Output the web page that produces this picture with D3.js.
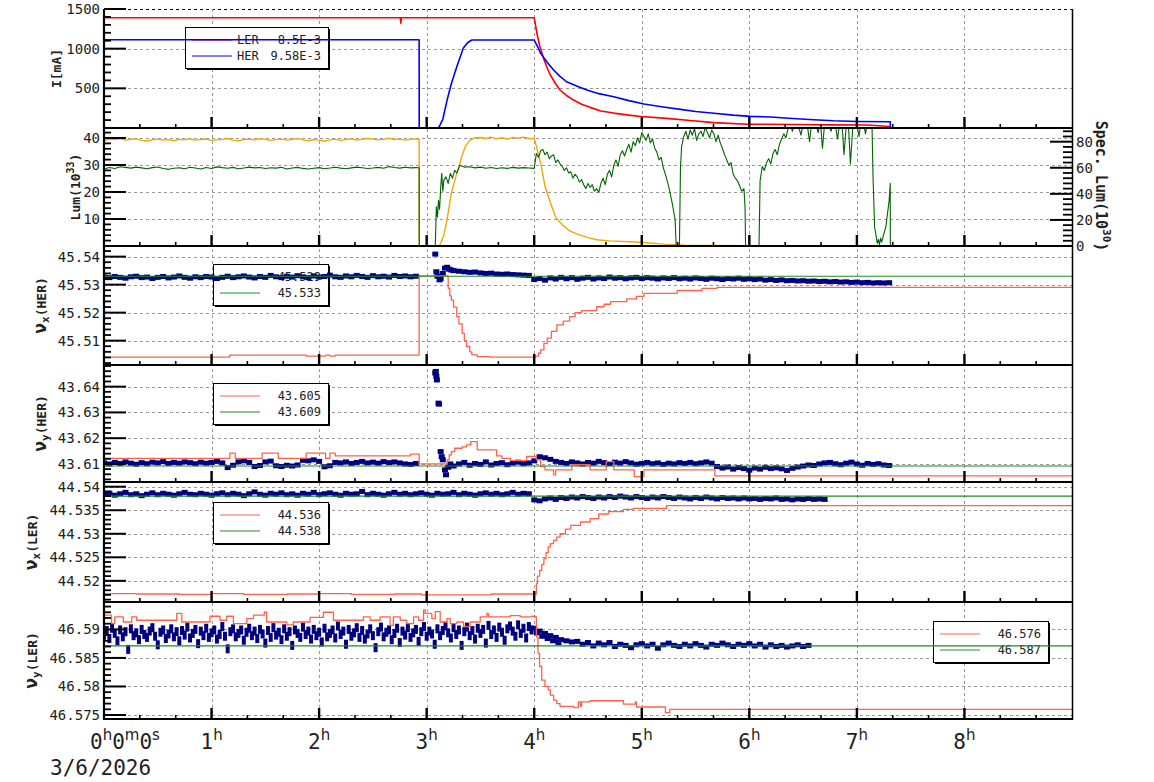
<!DOCTYPE html>
<html><head><meta charset="utf-8">
<script src="https://cdn.jsdelivr.net/npm/d3@7"></script>
<style>
body{margin:0;background:#fff}
svg{display:block}
text{font-family:"DejaVu Sans Mono",monospace;fill:#222}
</style>
</head><body>
<svg id="c" width="1154" height="782"></svg>
<script>
// ---------------- DATA ----------------
const seq = (t0, dt, vals) => vals.map((v, i) => [+(t0 + i * dt).toFixed(4), v]);

const hours = [1, 2, 3, 4, 5, 6, 7, 8];
const dateLabel = "3/6/2026";
const ticksI = [500, 1000, 1500];
const ticksLum = [10, 20, 30, 40];
const ticksSpec = [0, 20, 40, 60, 80];
const ticksHx = [45.51, 45.52, 45.53, 45.54];
const ticksHy = [43.61, 43.62, 43.63, 43.64];
const ticksLx = [44.52, 44.525, 44.53, 44.535, 44.54];
const ticksLy = [46.575, 46.58, 46.585, 46.59];

const legendINames = ["LER", "HER"];
const legendIVals = ["8.5E-3", "9.58E-3"];
const legendHx = ["45.529", "45.533"];
const legendHy = ["43.605", "43.609"];
const legendLx = ["44.536", "44.538"];
const legendLy = ["46.576", "46.587"];

// beam currents [h, mA]
const curLER = [[0,1390],[2.755,1390],[2.76,1320],[2.765,1390],[4.0,1390],[4.025,1194],[4.05,1040],[4.087,878],[4.12,760],[4.15,668],[4.2,555],[4.24,479],[4.3,410],[4.366,352],[4.44,300],[4.52,260],[4.62,215],[4.74,188],[4.86,165],[4.99,145],[5.23,121],[5.45,95],[5.67,68],[5.98,48],[6.41,44],[6.75,40],[7.1,37],[7.3,18],[7.31,0],[9,0]];
const curHER = [[0,1112],[2.93,1112],[2.931,0],[3.11,0],[3.15,110],[3.19,352],[3.23,560],[3.28,772],[3.34,1004],[3.38,1075],[3.42,1109],[4.0,1109],[4.03,1030],[4.06,941],[4.12,830],[4.18,731],[4.24,650],[4.30,583],[4.4,525],[4.49,479],[4.6,433],[4.74,394],[4.88,345],[5.02,302],[5.2,265],[5.36,235],[5.5,208],[5.67,185],[5.85,162],[6.01,147],[6.2,138],[6.4,120],[6.6,104],[6.78,91],[7.0,82],[7.31,78],[7.311,0],[9,0]];

// luminosity (left axis, 1e33)
const lumOrange = [
  ...seq(0, 0.05, [39.0,39.6,39.4,39.8,39.2,39.5,39.7,39.1,38.9,39.3,39.6,39.2,39.4,39.0,39.5,39.3,39.7,39.2,39.4,39.6,39.1,39.3,39.5,39.8,39.2,39.0,39.4,39.6,39.3,39.7,39.5,39.1,39.4,39.6,39.2,39.5,39.8,39.3,39.0,39.4,39.2,38.9,39.3,39.6,39.1,39.4,39.7,39.2,39.5,39.8,39.6,39.3,39.5,39.9,39.4,39.6,39.2,39.5,39.7]),
  [2.93,39.4],[2.931,0],[3.12,0],[3.16,4],[3.19,9.9],[3.23,19.7],[3.27,25.5],[3.30,29.5],[3.33,33.5],[3.36,36.9],[3.40,39.0],[3.44,40.0],
  ...seq(3.5, 0.05, [40.2,39.8,40.3,39.7,40.1,39.6,40.2,39.9,40.3,39.8]),
  [4.0,39.8],[4.02,36.9],[4.06,30.7],[4.10,22.2],[4.15,16.1],[4.20,10.6],[4.27,7.5],[4.33,5.6],[4.40,4.4],[4.5,3.1],[4.58,2.3],[4.7,1.9],[4.89,1.6],[5.05,1.2],[5.2,0.7],[5.4,0.3],[5.6,0.2],[6.0,0.1],[7.14,0.1]
];
// specific luminosity (right axis, 1e30)
const specLum = [
  ...seq(0, 0.05, [59.0,60.2,59.5,60.8,60.3,59.7,60.5,59.9,59.2,60.1,60.6,59.4,58.8,59.6,60.0,59.3,60.4,59.8,59.1,60.2,59.5,60.7,60.1,59.6,60.3,59.2,59.8,60.5,59.9,60.2,59.4,60.0,59.7,60.4,59.1,59.8,60.3,59.5,59.0,59.6,60.1,59.3,59.8,60.4,59.7,59.2,59.9,60.5,60.0,59.4,59.8,60.3,59.6,60.9,60.2,59.7,60.4,59.9,60.1]),
  [2.93,60],[2.931,0],[3.08,0],[3.09,30],[3.1,22],[3.11,35],[3.12,28],[3.13,44],[3.14,55.7],[3.15,42],[3.16,50.5],[3.18,53],[3.20,48],[3.22,55.7],[3.24,52],[3.26,58],[3.28,56],[3.31,62],[3.35,60.5],
  ...seq(3.4, 0.05, [60.8,59.9,60.5,59.6,60.2,59.4,60.0,59.5,60.3,59.7,60.1,59.8]),
  [4.0,59.5],
  ...seq(4.02, 0.02, [71,68,73,74,70,72,67,69,70,64, 66,63,61,58,60,56,57,52,55,53, 49,51,47,44,48,45,47,42,44,41, 48,52,47,55,58,53,62,66,61,70, 73,69,74,78,72,80,77,83,79,87, 84,81,86,79,82,75,72,66,68,60, 55,49,42,34,25]),
  [5.31,19.8],[5.32,0],[5.35,0],[5.36,60.8],
  ...seq(5.37, 0.02, [76,84,88,82,89,85,90,81,86,88, 84,91,87,83,89,86,80,85,79,75, 70,66,62,64,55,52,50,46,42,44]),
  [5.96,30],[5.965,0],[6.09,0],[6.10,50],
  ...seq(6.12, 0.02, [61,58,64,67,63,71,74,70,78,82, 86,83,90,95,88,93,97,91,85,94, 96,92,80,95,98,93,87,96,75,94, 97,92,88,96,93,82,95,97,70,91, 95,63,89,96,93,84,97,95,86,96, 92,95]),
  [7.15,53],[7.165,14.6],[7.18,7],[7.19,2],[7.20,5],[7.21,1],[7.22,6],[7.23,3],[7.25,9],[7.27,15],[7.28,22],[7.30,35],[7.31,48],[7.311,0]
];

// HER horizontal tune
const setHx = [[0,45.5041],[1.17,45.5048],[1.88,45.5045],[2.06,45.5048],[2.10,45.5045],[2.15,45.5048],[2.93,45.5331],[3.20,45.5287],[3.215,45.526],[3.23,45.5245],[3.25,45.522],[3.28,45.5186],[3.30,45.516],[3.33,45.5126],[3.35,45.510],[3.37,45.5079],[3.40,45.506],[3.42,45.5049],[3.47,45.5043],[3.59,45.5041],[4.01,45.5045],[4.04,45.5055],[4.06,45.5067],[4.09,45.509],[4.12,45.5109],[4.16,45.5133],[4.21,45.5156],[4.27,45.517],[4.33,45.5186],[4.38,45.520],[4.44,45.5207],[4.58,45.5221],[4.65,45.523],[4.71,45.5239],[4.86,45.5249],[4.95,45.5258],[5.02,45.5269],[5.33,45.5279],[5.56,45.5287],[5.70,45.529],[9,45.529]];
const refHx = [[0,45.533],[9,45.533]];
const measHx = [
  ...seq(0, 0.05, [45.5327,45.5325,45.5329,45.5326,45.5323,45.5328,45.5330,45.5325,45.5327,45.5322,45.5326,45.5329,45.5324,45.5327,45.5331,45.5326,45.5323,45.5328,45.5325,45.5329,45.5327,45.5322,45.5326,45.5330,45.5325,45.5328,45.5331,45.5327,45.5324,45.5329,45.5326,45.5333,45.5328,45.5325,45.5330,45.5327,45.5332,45.5328,45.5325,45.5331,45.5327,45.5329,45.5334,45.5328,45.5326,45.5331,45.5328,45.5333,45.5329,45.5326,45.5332,45.5328,45.5330,45.5327,45.5333,45.5329,45.5331,45.5328,45.5330]),
  [3.08,45.5409],[3.09,45.5346],[3.10,45.5330],[3.12,45.5317],[3.13,45.5322],[3.15,45.5340],[3.17,45.5359],[3.19,45.5362],[3.21,45.5355],[3.23,45.5352],[3.25,45.5350],
  ...seq(3.3, 0.05, [45.5348,45.5346,45.5344,45.5345,45.5342,45.5340,45.5341,45.5338,45.5337,45.5338,45.5336,45.5335,45.5334,45.5333]),
  ...seq(4.0, 0.05, [45.5318,45.5322,45.5316,45.5324,45.5320,45.5326,45.5321,45.5325,45.5319,45.5323,45.5326,45.5320,45.5324,45.5322,45.5327,45.5323,45.5325,45.5321,45.5324,45.5326,45.5322,45.5325,45.5323,45.5320,45.5324,45.5322,45.5325,45.5321,45.5323,45.5320,45.5324,45.5322,45.5319,45.5323,45.5321,45.5318,45.5322,45.5320,45.5323,45.5319,45.5321,45.5318,45.5320,45.5316,45.5318,45.5315,45.5317,45.5314,45.5315,45.5313,45.5314,45.5312,45.5313,45.5311,45.5312,45.5310,45.5311,45.5309,45.5310,45.5308,45.5309,45.5307,45.5308,45.5306,45.5307,45.5306,45.5307])
];

// HER vertical tune
const setHy = [[0,43.6122],[1.17,43.6142],[1.22,43.6122],[1.47,43.6142],[1.62,43.6122],[1.88,43.6142],[2.06,43.6122],[2.10,43.6142],[2.15,43.6131],[2.85,43.6138],[2.93,43.6100],[3.19,43.6116],[3.21,43.6135],[3.23,43.6148],[3.26,43.6161],[3.33,43.6166],[3.37,43.6174],[3.41,43.6187],[3.47,43.6155],[3.65,43.6131],[3.70,43.6122],[3.78,43.6113],[3.93,43.6129],[4.02,43.6116],[4.06,43.6090],[4.10,43.6077],[4.18,43.6058],[4.20,43.6077],[4.35,43.6097],[4.52,43.6077],[4.67,43.6109],[4.74,43.6077],[4.93,43.6051],[5.02,43.6077],[5.68,43.6054],[9,43.6054]];
const refHy = [[0,43.6092],[9,43.6092]];
const measHy = [
  ...seq(0, 0.05, [43.6104,43.6100,43.6106,43.6102,43.6108,43.6103,43.6099,43.6105,43.6101,43.6107,43.6104,43.6109,43.6102,43.6106,43.6103,43.6108,43.6105,43.6101,43.6107,43.6103,43.6106,43.6110,43.6104,43.6086,43.6095,43.6108,43.6112,43.6106,43.6090,43.6094,43.6108,43.6111,43.6093,43.6090,43.6095,43.6092,43.6096,43.6114,43.6112,43.6116,43.6110,43.6089,43.6093,43.6106,43.6104,43.6108,43.6102,43.6106,43.6110,43.6104,43.6107,43.6103,43.6109,43.6105,43.6108,43.6104,43.6100,43.6098,43.6102]),
  [3.08,43.6453],[3.085,43.6459],[3.09,43.6440],[3.095,43.6426],[3.11,43.6336],[3.115,43.6332],[3.13,43.6148],[3.14,43.6128],[3.15,43.6116],[3.17,43.6077],[3.18,43.6058],[3.20,43.6087],[3.22,43.6100],
  ...seq(3.25, 0.05, [43.6092,43.6100,43.6106,43.6095,43.6102,43.6098,43.6108,43.6096,43.6102,43.6105,43.6097,43.6103,43.6107,43.6101,43.6104]),
  ...seq(4.0, 0.05, [43.6112,43.6128,43.6124,43.6118,43.6110,43.6106,43.6102,43.6108,43.6104,43.6100,43.6106,43.6103,43.6110,43.6105,43.6101,43.6107,43.6103,43.6109,43.6104,43.6099,43.6102,43.6106,43.6101,43.6104,43.6098,43.6103,43.6100,43.6105,43.6102,43.6106,43.6101,43.6104,43.6108,43.6103,43.6090,43.6084,43.6088,43.6080,43.6086,43.6082,43.6076,43.6084,43.6080,43.6087,43.6082,43.6085,43.6081,43.6075,43.6083,43.6088,43.6092,43.6096,43.6094,43.6100,43.6104,43.6106,43.6101,43.6097,43.6103,43.6107,43.6100,43.6095,43.6102,43.6098,43.6101,43.6096,43.6094])
];

// LER horizontal tune
const setLx = [[0,44.5173],[0.3,44.5172],[0.7,44.5171],[1.0,44.5173],[1.3,44.5171],[1.7,44.5172],[2.0,44.5173],[2.3,44.5171],[2.7,44.5172],[2.95,44.5170],[3.6,44.5172],[4.0,44.5172],[4.02,44.5194],[4.03,44.5210],[4.05,44.5222],[4.07,44.5235],[4.09,44.5247],[4.11,44.5260],[4.13,44.5272],[4.15,44.5279],[4.18,44.5286],[4.21,44.5293],[4.24,44.5300],[4.29,44.5310],[4.34,44.5318],[4.43,44.5325],[4.52,44.5332],[4.60,44.5342],[4.69,44.5347],[4.83,44.5352],[4.92,44.5354],[5.23,44.5360],[9,44.5360]];
const refLx = [[0,44.538],[9,44.538]];
const measLx = [
  ...seq(0, 0.05, [44.5384,44.5386,44.5382,44.5385,44.5388,44.5383,44.5385,44.5381,44.5384,44.5387,44.5383,44.5386,44.5384,44.5382,44.5385,44.5388,44.5384,44.5383,44.5386,44.5384,44.5382,44.5385,44.5387,44.5383,44.5386,44.5384,44.5381,44.5385,44.5389,44.5384,44.5382,44.5386,44.5384,44.5387,44.5383,44.5385,44.5382,44.5386,44.5384,44.5388,44.5383,44.5385,44.5387,44.5384,44.5382,44.5386,44.5384,44.5385,44.5390,44.5383,44.5386,44.5384,44.5382,44.5385,44.5388,44.5384,44.5386,44.5383,44.5385,44.5387,44.5384,44.5382,44.5386,44.5384,44.5385,44.5388,44.5383,44.5386,44.5384,44.5382,44.5385,44.5387,44.5384,44.5386,44.5383,44.5385,44.5388,44.5384,44.5386,44.5385]),
  ...seq(4.0, 0.05, [44.5372,44.5370,44.5374,44.5376,44.5373,44.5377,44.5375,44.5378,44.5376,44.5379,44.5377,44.5375,44.5378,44.5376,44.5379,44.5377,44.5380,44.5378,44.5376,44.5379,44.5377,44.5375,44.5378,44.5376,44.5379,44.5377,44.5375,44.5378,44.5376,44.5374,44.5377,44.5375,44.5378,44.5376,44.5374,44.5377,44.5375,44.5376,44.5374,44.5376,44.5374,44.5375,44.5373,44.5375,44.5374,44.5376,44.5373,44.5374,44.5372,44.5374,44.5373,44.5375,44.5373,44.5374,44.5373])
];

// LER vertical tune
const setLy = [[0,46.5925],[0.07,46.5910],[0.10,46.5922],[0.18,46.5913],[0.258,46.5922],[0.304,46.5916],[0.676,46.5928],[0.723,46.5913],[0.986,46.5923],[1.079,46.5916],[1.141,46.5923],[1.203,46.5910],[1.327,46.5919],[1.39,46.5925],[1.49,46.5930],[1.513,46.5913],[1.70,46.5908],[1.76,46.5913],[1.916,46.5921],[2.04,46.5930],[2.133,46.5916],[2.412,46.5922],[2.474,46.5916],[2.567,46.5922],[2.66,46.5907],[2.69,46.5922],[2.754,46.5916],[2.815,46.5910],[2.878,46.5922],[2.925,46.5916],[2.971,46.5934],[2.986,46.5928],[3.048,46.5919],[3.08,46.5931],[3.126,46.5913],[3.188,46.5919],[3.219,46.5910],[3.281,46.5913],[3.343,46.5905],[3.405,46.5913],[3.498,46.5922],[3.56,46.5928],[3.575,46.5922],[3.777,46.5924],[3.87,46.5922],[3.978,46.5923],[4.009,46.5922],[4.02,46.5887],[4.035,46.5858],[4.05,46.5835],[4.07,46.5811],[4.10,46.5800],[4.13,46.5794],[4.15,46.5785],[4.18,46.5776],[4.21,46.5770],[4.24,46.5765],[4.37,46.5763],[4.41,46.5773],[4.43,46.5765],[4.44,46.5773],[4.52,46.5775],[4.83,46.5769],[4.94,46.5773],[4.95,46.5764],[5.22,46.5754],[5.26,46.5760],[9,46.5760]];
const refLy = [[0,46.5871],[9,46.5871]];
const measLyA = seq(0, 0.025, [
    46.5890,46.5898,46.5884,46.5902,46.5893,46.5880,46.5899,46.5887,
    46.5896,46.5865,46.5901,46.5889,46.5894,46.5882,46.5900,46.5891,
    46.5886,46.5897,46.5903,46.5888,46.5873,46.5895,46.5899,46.5884,
    46.5892,46.5901,46.5887,46.5896,46.5880,46.5898,46.5890,46.5904,
    46.5885,46.5893,46.5900,46.5875,46.5897,46.5889,46.5902,46.5886,
    46.5894,46.5899,46.5883,46.5891,46.5905,46.5888,46.5866,46.5896,
    46.5901,46.5887,46.5893,46.5899,46.5881,46.5895,46.5902,46.5889,
    46.5897,46.5884,46.5900,46.5892,46.5876,46.5898,46.5886,46.5903,
    46.5890,46.5895,46.5882,46.5901,46.5888,46.5896,46.5872,46.5899,
    46.5893,46.5886,46.5904,46.5891,46.5897,46.5883,46.5900,46.5889,
    46.5895,46.5878,46.5902,46.5887,46.5893,46.5899,46.5885,46.5906,
    46.5891,46.5897,46.5874,46.5900,46.5888,46.5894,46.5903,46.5886,
    46.5898,46.5883,46.5892,46.5901,46.5889,46.5868,46.5896,46.5904,
    46.5887,46.5895,46.5899,46.5882,46.5893,46.5902,46.5877,46.5897,
    46.5890,46.5903,46.5886,46.5894,46.5900,46.5879,46.5896,46.5905,
    46.5888,46.5897,46.5892,46.5874,46.5901,46.5889,46.5898,46.5906,
    46.5894,46.5885,46.5903,46.5891,46.5899,46.5872,46.5896,46.5904,
    46.5889,46.5898,46.5883,46.5902,46.5893,46.5900,46.5876,46.5907,
    46.5891,46.5899,46.5886,46.5904,46.5895,46.5881,46.5901,46.5906,
    46.5897,46.5888,46.5908,46.5893,46.5902,46.5885,46.5905,46.5899]);
const measLyB = [
  [4.025,46.5894],[4.075,46.5888],[4.125,46.5884],[4.175,46.5880],[4.225,46.5877],
  ...seq(4.0, 0.05, [46.5902,46.5897,46.5893,46.5889,46.5886,46.5882,46.5880,46.5878,46.5879,46.5874,46.5877,46.5871,46.5876,46.5873,46.5877,46.5870,46.5874,46.5872,46.5868,46.5873,46.5875,46.5871,46.5874,46.5867,46.5873,46.5876,46.5872,46.5870,46.5874,46.5871,46.5875,46.5872,46.5869,46.5874,46.5872,46.5876,46.5873,46.5870,46.5874,46.5872,46.5875,46.5871,46.5874,46.5869,46.5873,46.5870,46.5872,46.5869,46.5871,46.5873,46.5870,46.5872])
];

// ---------------- DRAW ----------------
const C = {red:"#ff0000", blue:"#0000ff", orange:"#f0a800", dkgreen:"#006400", coral:"#ff6347", green:"#228b22", navy:"#000080", grid:"#999"};
const svg = d3.select("#c");
const X0 = 104, X1 = 1072, TOP = 9, BOT = 719;
const x = d3.scaleLinear().domain([0, 9]).range([X0, X1]);

const panels = [
  {top:9,   bot:128, dom:[0,1500],          ticks:ticksI,   minor:100},
  {top:128, bot:246, dom:[0,43.7],          ticks:ticksLum, minor:2, right:{dom:[0,90.5], ticks:ticksSpec, minor:4}},
  {top:246, bot:365, dom:[45.5013,45.5438], ticks:ticksHx,  minor:0.002},
  {top:365, bot:482, dom:[43.603,43.6484],  ticks:ticksHy,  minor:0.002},
  {top:482, bot:602, dom:[44.5155,44.541],  ticks:ticksLx,  minor:0.001},
  {top:602, bot:719, dom:[46.5743,46.5948], ticks:ticksLy,  minor:0.001}
];
panels.forEach(p => {
  p.y = d3.scaleLinear().domain(p.dom).range([p.bot, p.top]);
  if (p.right) p.right.y = d3.scaleLinear().domain(p.right.dom).range([p.bot, p.top]);
});
const minors = (dom, step, majors) => {
  const a = Math.ceil(dom[0] / step - 1e-6), b = Math.floor(dom[1] / step + 1e-6);
  return d3.range(a, b + 1).map(k => k * step).filter(v => !majors.some(m => Math.abs(m - v) < step / 10));
};

const defs = svg.append("defs");
panels.forEach((p, i) => {
  defs.append("clipPath").attr("id", "clip" + i).append("rect")
    .attr("x", X0).attr("y", p.top).attr("width", X1 - X0).attr("height", p.bot - p.top);
});

// grid
const grid = svg.append("g");
panels.forEach((p, i) => {
  p.ticks.forEach(t => {
    const yy = Math.round(p.y(t)) + 0.5;
    grid.append("line").attr("x1", X0).attr("x2", X1).attr("y1", yy).attr("y2", yy)
      .attr("stroke", (i === 0 && t === 1500) ? "#000" : C.grid).attr("stroke-width", 1).attr("stroke-dasharray", "3,3");
  });
});
hours.forEach(h => {
  const xx = Math.round(x(h)) + 0.5;
  grid.append("line").attr("x1", xx).attr("x2", xx).attr("y1", TOP).attr("y2", BOT)
    .attr("stroke", C.grid).attr("stroke-width", 1).attr("stroke-dasharray", "3,3");
});

// legends (under data)
const legends = [
  {x:185, y:27,  w:143, rows:[[C.red, legendINames[0], legendIVals[0]], [C.blue, legendINames[1], legendIVals[1]]]},
  {x:213, y:264, w:115, rows:[[C.coral, "", legendHx[0]], [C.green, "", legendHx[1]]]},
  {x:213, y:383, w:115, rows:[[C.coral, "", legendHy[0]], [C.green, "", legendHy[1]]]},
  {x:213, y:502, w:115, rows:[[C.coral, "", legendLx[0]], [C.green, "", legendLx[1]]]},
  {x:933, y:621, w:115, rows:[[C.coral, "", legendLy[0]], [C.green, "", legendLy[1]]]}
];
const lg = svg.append("g");
legends.forEach(L => {
  const h = 41;
  lg.append("rect").attr("x", L.x + 2).attr("y", L.y + 2).attr("width", L.w).attr("height", h).attr("fill", "#000");
  lg.append("rect").attr("x", L.x + 0.5).attr("y", L.y + 0.5).attr("width", L.w).attr("height", h)
    .attr("fill", "#fff").attr("stroke", "#000").attr("stroke-width", 1);
  L.rows.forEach((r, k) => {
    const ry = L.y + 13 + k * 16;
    lg.append("line").attr("x1", L.x + 7).attr("x2", L.x + 47).attr("y1", ry).attr("y2", ry)
      .attr("stroke", r[0]).attr("stroke-width", 1.2);
    if (r[1]) lg.append("text").attr("x", L.x + 52).attr("y", ry).attr("dominant-baseline", "central")
      .attr("font-size", 12).text(r[1]);
    lg.append("text").attr("x", L.x + L.w - 7).attr("y", ry).attr("dominant-baseline", "central")
      .attr("text-anchor", "end").attr("font-size", 12).text(r[2]);
  });
});

// data
function drawLine(i, data, color, width, curve, yScale) {
  const ys = yScale || panels[i].y;
  const line = d3.line().x(d => x(d[0])).y(d => ys(d[1])).curve(curve || d3.curveLinear);
  svg.append("path").attr("clip-path", `url(#clip${i})`).attr("d", line(data))
    .attr("fill", "none").attr("stroke", color).attr("stroke-width", width).attr("stroke-linejoin", "round");
}
function drawDots(i, data, w, h) {
  const ys = panels[i].y;
  svg.append("g").attr("clip-path", `url(#clip${i})`).selectAll("rect").data(data).join("rect")
    .attr("x", d => x(d[0]) - w / 2).attr("y", d => ys(d[1]) - h / 2)
    .attr("width", w).attr("height", h).attr("fill", C.navy);
}
drawLine(0, curLER, C.red, 1.6);
drawLine(0, curHER, C.blue, 1.6);
drawLine(1, lumOrange, C.orange, 1.4);
drawLine(1, specLum, C.dkgreen, 1.1, d3.curveLinear, panels[1].right.y);

drawDots(2, measHx, 6, 5);
drawLine(2, setHx, C.coral, 1.3, d3.curveStepAfter);
drawLine(2, refHx, C.green, 1.2);

drawDots(3, measHy, 6, 5);
drawLine(3, setHy, C.coral, 1.3, d3.curveStepAfter);
drawLine(3, refHy, C.green, 1.2);

drawDots(4, measLx, 6, 5);
drawLine(4, setLx, C.coral, 1.3, d3.curveStepAfter);
drawLine(4, refLx, C.green, 1.2);

drawDots(5, measLyA, 4, 9);
drawDots(5, measLyB, 6, 5);
drawLine(5, setLy, C.coral, 1.3, d3.curveStepAfter);
drawLine(5, refLy, C.green, 1.2);

// axes / frame
const ax = svg.append("g");
panels.forEach((p, i) => {
  ax.append("line").attr("x1", X0 - 1).attr("x2", X1).attr("y1", p.bot).attr("y2", p.bot)
    .attr("stroke", "#000").attr("stroke-width", 2.2);
  for (let k = 1; k < 27; k++) {
    const major = k % 3 === 0;
    const xx = x(k / 3);
    ax.append("line").attr("x1", xx).attr("x2", xx).attr("y1", p.bot).attr("y2", p.bot - (major ? 11 : 4))
      .attr("stroke", "#000").attr("stroke-width", major ? 2.4 : 1.6);
  }
  p.ticks.forEach(t => {
    const yy = p.y(t);
    ax.append("line").attr("x1", X0).attr("x2", X0 + 22).attr("y1", yy).attr("y2", yy)
      .attr("stroke", "#000").attr("stroke-width", 2);
    ax.append("text").attr("x", 100).attr("y", yy).attr("text-anchor", "end")
      .attr("dominant-baseline", "central").attr("font-size", 14).text(String(t));
  });
  minors(p.dom, p.minor, p.ticks).forEach(t => {
    const yy = p.y(t);
    if (yy > p.bot - 1 || yy < p.top + 0.5) return;
    ax.append("line").attr("x1", X0).attr("x2", X0 + 7).attr("y1", yy).attr("y2", yy)
      .attr("stroke", "#000").attr("stroke-width", 1.8);
  });
  if (p.right) {
    const r = p.right;
    r.ticks.forEach(t => {
      const yy = r.y(t);
      ax.append("line").attr("x1", X1 - 22).attr("x2", X1).attr("y1", yy).attr("y2", yy)
        .attr("stroke", "#000").attr("stroke-width", 2);
      ax.append("text").attr("x", 1076).attr("y", yy).attr("dominant-baseline", "central")
        .attr("font-size", 14).text(String(t));
    });
    minors(r.dom, r.minor, r.ticks).forEach(t => {
      const yy = r.y(t);
      if (yy > p.bot - 1 || yy < p.top + 0.5) return;
      ax.append("line").attr("x1", X1 - 9).attr("x2", X1).attr("y1", yy).attr("y2", yy)
        .attr("stroke", "#000").attr("stroke-width", 1.8);
    });
  }
});
ax.append("line").attr("x1", X0).attr("x2", X0).attr("y1", TOP).attr("y2", BOT + 1)
  .attr("stroke", "#000").attr("stroke-width", 2.2);
ax.append("line").attr("x1", X1 + 0.5).attr("x2", X1 + 0.5).attr("y1", TOP).attr("y2", BOT + 1)
  .attr("stroke", "#000").attr("stroke-width", 1.5);

// x labels
const xl = svg.append("g");
const t0 = xl.append("text").attr("x", 90).attr("y", 749).attr("font-size", 21);
[["0", 0], ["h", 1], ["0", 0], ["m", 1], ["0", 0], ["s", 1]].forEach(([s, sup], k) => {
  t0.append("tspan").attr("dy", k === 0 ? 0 : (sup ? -9 : 9))
    .attr("font-size", sup ? 15 : 21).attr("font-family", sup ? "DejaVu Sans" : null).text(s);
});
hours.forEach(h => {
  const t = xl.append("text").attr("x", x(h)).attr("y", 749).attr("text-anchor", "middle").attr("font-size", 21);
  t.append("tspan").text(String(h));
  t.append("tspan").attr("dy", -9).attr("font-size", 15).attr("font-family", "DejaVu Sans").text("h");
});
xl.append("text").attr("x", 50).attr("y", 775).attr("font-size", 21).text(dateLabel);

// y titles
function vtitle(bx, cy, parts, rot) {
  const t = svg.append("text").attr("transform", `translate(${bx},${cy}) rotate(${rot || -90})`)
    .attr("text-anchor", "middle").attr("font-weight", "bold");
  let cur = 0;
  parts.forEach(([s, size, shift]) => {
    t.append("tspan").attr("dy", shift - cur).attr("font-size", size).text(s);
    cur = shift;
  });
}
vtitle(61, 68.5, [["I[mA]", 13, 0]]);
vtitle(80, 187, [["Lum(10", 13, 0], ["33", 10, -6], [")", 13, 0]]);
vtitle(46, 305.5, [["ν", 18, 0], ["x", 11, 3], ["(HER)", 13, 0]]);
vtitle(46, 423.5, [["ν", 18, 0], ["y", 11, 3], ["(HER)", 13, 0]]);
vtitle(37, 542, [["ν", 18, 0], ["x", 11, 3], ["(LER)", 13, 0]]);
vtitle(37, 660.5, [["ν", 18, 0], ["y", 11, 3], ["(LER)", 13, 0]]);
vtitle(1096, 186, [["Spec. Lum(10", 15, 0], ["30", 11, -7], [")", 15, 0]], 90);
</script>
</body></html>
